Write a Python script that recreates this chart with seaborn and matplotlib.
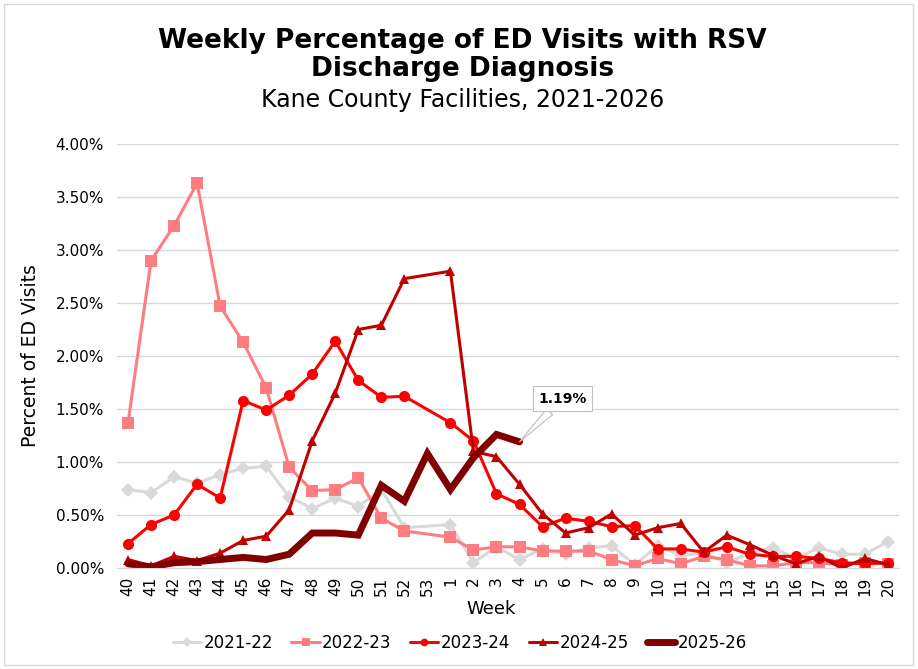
import numpy as np
import pandas as pd
import matplotlib
matplotlib.use("Agg")
import matplotlib.pyplot as plt
import seaborn as sns
from matplotlib.lines import Line2D
from matplotlib.ticker import FuncFormatter

WEEKS = [str(w) for w in list(range(40, 54)) + list(range(1, 21))]

SEASONS = ["2021-22", "2022-23", "2023-24", "2024-25", "2025-26"]

s2122 = [0.74, 0.71, 0.86, 0.80, 0.88, 0.94, 0.96, 0.67, 0.56, 0.66, 0.58, 0.74, 0.38, None,
         0.41, 0.05, 0.20, 0.08, 0.18, 0.13, 0.19, 0.21, 0.03, 0.21, 0.12, 0.14, 0.05, 0.14,
         0.19, 0.09, 0.19, 0.13, 0.13, 0.25]
s2223 = [1.37, 2.90, 3.23, 3.63, 2.47, 2.13, 1.70, 0.95, 0.73, 0.74, 0.85, 0.47, 0.35, None,
         0.29, 0.17, 0.20, 0.20, 0.16, 0.16, 0.16, 0.08, 0.02, 0.09, 0.04, 0.11, 0.08, 0.02,
         0.02, 0.05, 0.05, 0.03, 0.05, 0.04]
s2324 = [0.23, 0.41, 0.50, 0.79, 0.66, 1.58, 1.49, 1.63, 1.83, 2.14, 1.77, 1.61, 1.62, None,
         1.37, 1.20, 0.70, 0.60, 0.39, 0.47, 0.44, 0.39, 0.40, 0.18, 0.18, 0.15, 0.20, 0.13,
         0.11, 0.11, 0.09, 0.05, 0.04, 0.05]
s2425 = [0.08, 0.02, 0.11, 0.07, 0.14, 0.26, 0.30, 0.55, 1.20, 1.65, 2.25, 2.29, 2.73, None,
         2.80, 1.10, 1.05, 0.79, 0.51, 0.33, 0.38, 0.51, 0.31, 0.38, 0.42, 0.15, 0.31, 0.22,
         0.12, 0.04, 0.11, 0.00, 0.09, 0.03]
s2526 = [0.04, 0.01, 0.05, 0.06, 0.08, 0.10, 0.08, 0.13, 0.33, 0.33, 0.31, 0.78, 0.63, 1.08,
         0.74, 1.04, 1.26, 1.19]

COLORS = ["#D9D9D9", "#FF7C80", "#FF0000", "#C00000", "#800000"]
MARKERS = ["D", "s", "o", "^", None]
LWIDTHS = [2.2, 2.2, 2.2, 2.2, 5.0]
MSIZES = [7, 8, 8, 7.5, 0]

series = [s2122, s2223, s2324, s2425, s2526]

sns.set_style("white")
plt.rcParams["font.family"] = ["DejaVu Sans"]
for k in ["text.color", "axes.labelcolor", "xtick.color", "ytick.color"]:
    plt.rcParams[k] = "black"

fig = plt.figure(figsize=(9.18, 6.69), dpi=100)
ax = fig.add_axes([116.5 / 918, 101 / 669, 783 / 918, 424 / 669])

for name, vals, c, m, lw, ms in zip(SEASONS, series, COLORS, MARKERS, LWIDTHS, MSIZES):
    df = pd.DataFrame({"pos": np.arange(len(vals)), "pct": vals}).dropna()
    sns.lineplot(data=df, x="pos", y="pct", ax=ax, color=c, lw=lw, marker=m,
                 markersize=ms, markeredgewidth=0, label=name, legend=False,
                 solid_joinstyle="miter" if m is None else "round")

ax.set_xlim(-0.5, len(WEEKS) - 0.5)
ax.set_ylim(0, 4.0)
ax.set_yticks(np.arange(0, 4.01, 0.5))
ax.yaxis.set_major_formatter(FuncFormatter(lambda v, p: f"{v:.2f}%"))
ax.set_xticks(np.arange(len(WEEKS)))
ax.set_xticklabels(WEEKS, rotation=90)
ax.tick_params(axis="x", length=0, labelsize=11, pad=6)
ax.tick_params(axis="y", length=0, labelsize=11, pad=9)
ax.grid(axis="y", color="#D9D9D9", lw=1)
ax.set_axisbelow(True)
for s in ["top", "right", "left"]:
    ax.spines[s].set_visible(False)
ax.spines["bottom"].set_color("#D9D9D9")

ax.set_xlabel("Week", fontsize=13)
ax.xaxis.set_label_coords((491 - 116.5) / 783, -0.075)
ax.set_ylabel("Percent of ED Visits", fontsize=13.5, labelpad=11)

# last point callout
last = len(s2526) - 1
ax.annotate(f"{s2526[last]:.2f}%", xy=(last, s2526[last]), xytext=(31, 31),
            textcoords="offset points", ha="center", va="center",
            fontsize=10, fontweight="bold",
            bbox=dict(boxstyle="square,pad=0.4", fc="white", ec="#BFBFBF", lw=0.8),
            arrowprops=dict(arrowstyle="wedge,tail_width=0.6", fc="white", ec="#BFBFBF",
                            lw=0.8, shrinkA=0, shrinkB=0))

fig.text(0.504, 0.958, "Weekly Percentage of ED Visits with RSV\nDischarge Diagnosis",
         ha="center", va="top", fontsize=19, fontweight="bold", linespacing=1.1)
fig.text(0.504, 0.868, "Kane County Facilities, 2021-2026", ha="center", va="top", fontsize=17)

handles = [Line2D([], [], color=c, lw=lw, marker=m, markersize=ms * 0.7, markeredgewidth=0)
           for c, m, lw, ms in zip(COLORS, MARKERS, LWIDTHS, MSIZES)]
fig.legend(handles, SEASONS, loc="center", bbox_to_anchor=(0.501, 0.039), ncol=5,
           frameon=False, fontsize=12, handlelength=1.7, handletextpad=0.15,
           columnspacing=1.1)

fig.patches.append(plt.Rectangle((4 / 918, 4 / 669), 909 / 918, 661 / 669,
                                 transform=fig.transFigure, fill=False,
                                 ec="#D9D9D9", lw=1))

fig.savefig("out.png", dpi=100)
